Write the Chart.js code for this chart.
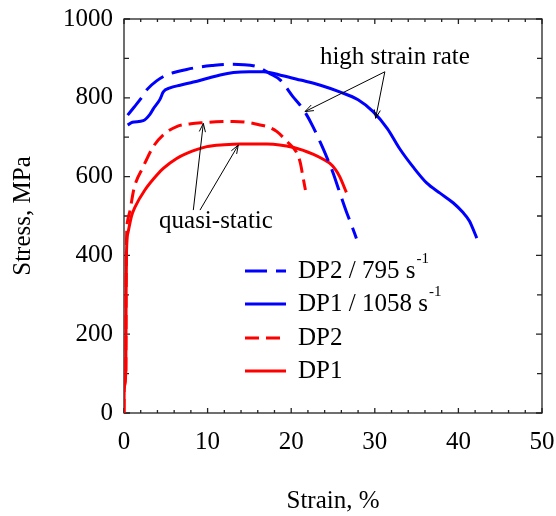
<!DOCTYPE html>
<html><head><meta charset="utf-8">
<script src="https://cdn.jsdelivr.net/npm/chart.js@4.4.0/dist/chart.umd.min.js"></script>
<style>html,body{margin:0;padding:0;background:#fff;}#wrap{width:556px;height:516px;}</style>
</head><body><div id="wrap"><canvas id="c" width="556" height="516"></canvas></div>
<script>
const FONT = '"Liberation Serif", "Times New Roman", serif';

// strain (%) / stress (MPa) pairs
const dp2HighStrain = [[0.44,756],[1.2,776],[2.1,800],[2.8,822],[3.9,843],[5.0,857],[6.3,866],[7.5,872],[9.0,878],[10.5,882],[12.3,885],[14.3,884],[15.9,879],[16.6,872],[17.4,862],[18.7,845],[20.2,803],[21.0,783],[21.7,762],[22.6,727],[23.5,686],[24.4,642],[25.0,610],[25.8,560],[26.6,511],[27.2,478],[27.8,443]];
const dp1HighStrain = [[0.44,731],[1.0,738],[2.3,742],[3.1,758],[3.5,772],[4.3,796],[4.7,815],[5.5,825],[6.7,832],[8.3,840],[9.9,849],[11.5,858],[13.1,864],[15.0,866],[16.7,866],[19.0,856],[21.1,845],[23.5,832],[25.8,815],[28.0,795],[29.8,765],[31.5,722],[33.0,670],[34.6,624],[36.2,584],[37.8,558],[39.4,533],[40.5,510],[41.3,488],[42.2,444]];
const dp2Quasi = [[0,0],[0.02,60],[0.22,110],[0.25,300],[0.3,440],[0.45,490],[0.7,512],[1.2,570],[2.3,625],[3.5,676],[4.7,706],[6.3,727],[8.0,734],[9.5,737],[11.0,739],[13.1,740],[15.0,737],[16.3,731],[17.5,724],[18.3,714],[19.5,689],[20.7,659],[21.1,634],[21.4,600],[21.7,566]];
const dp1Quasi = [[0,0],[0.02,60],[0.22,110],[0.25,300],[0.3,410],[0.5,460],[0.9,500],[1.3,522],[2.5,566],[4.1,608],[4.7,621],[6.3,646],[7.5,659],[9.9,676],[12.0,681],[13.9,683],[17.1,683],[20.3,674],[22.6,657],[24.0,642],[24.6,634],[25.3,618],[25.8,600],[26.6,560]];

const seriesNames = ['DP2 / 795 s', 'DP1 / 1058 s', 'DP2', 'DP1'];
const seriesSup = ['-1', '-1', '', ''];
const xTicks = [0, 10, 20, 30, 40, 50];
const yTicks = [0, 200, 400, 600, 800, 1000];

// annotations: text anchor and arrow tail/tip in data coords
const annHigh = {text:'high strain rate', at:[32.4,903], arrows:[[[31.2,866],[21.65,765]],[[31.2,866],[30.1,748]]]};
const annQuasi = {text:'quasi-static', at:[11.0,487], arrows:[[[8.29,515],[9.49,735]],[[9.09,515],[13.67,680]]]};

const toXY = arr => arr.map(p => ({x:p[0], y:p[1]}));
const styles = [
  {color:'#0000ff', dash:[22,9]},
  {color:'#0000ff', dash:[]},
  {color:'#ff0000', dash:[14,7]},
  {color:'#ff0000', dash:[]}
];
const allSeries = [dp2HighStrain, dp1HighStrain, dp2Quasi, dp1Quasi];
const datasets = allSeries.map((s,i) => ({
  label: seriesNames[i] + (seriesSup[i] ? '\u207B\u00B9' : ''),
  data: toXY(s),
  borderColor: styles[i].color,
  borderDash: styles[i].dash,
  borderWidth: 3,
  pointRadius: 0,
  fill: false,
  showLine: true,
  cubicInterpolationMode: 'monotone'
}));

const framePlugin = {
  id:'frame',
  beforeDatasetsDraw(chart){
    const {ctx, chartArea:a, scales:{x,y}} = chart;
    ctx.save();
    ctx.strokeStyle = '#222'; ctx.lineWidth = 1.3;
    ctx.strokeRect(a.left, a.top, a.right-a.left, a.bottom-a.top);
    ctx.beginPath();
    for (let v=0; v<=50; v+=2){
      const px = x.getPixelForValue(v);
      const L = v%10===0 ? 5 : 3;
      ctx.moveTo(px,a.bottom); ctx.lineTo(px,a.bottom-L);
      ctx.moveTo(px,a.top); ctx.lineTo(px,a.top+L);
    }
    for (let v=0; v<=1000; v+=100){
      const py = y.getPixelForValue(v);
      const L = v%200===0 ? 6 : 5;
      ctx.moveTo(a.left,py); ctx.lineTo(a.left+L,py);
      ctx.moveTo(a.right,py); ctx.lineTo(a.right-L,py);
    }
    ctx.stroke();
    ctx.restore();
  }
};

function arrow(ctx, x1, y1, x2, y2){
  const ang = Math.atan2(y2-y1, x2-x1), h = 9, w = 0.35;
  ctx.beginPath();
  ctx.moveTo(x1,y1); ctx.lineTo(x2,y2);
  ctx.moveTo(x2 - h*Math.cos(ang-w), y2 - h*Math.sin(ang-w));
  ctx.lineTo(x2,y2);
  ctx.lineTo(x2 - h*Math.cos(ang+w), y2 - h*Math.sin(ang+w));
  ctx.stroke();
}

const overlayPlugin = {
  id:'overlay',
  afterDraw(chart){
    const {ctx, scales:{x,y}} = chart;
    ctx.save();
    ctx.fillStyle = '#000'; ctx.strokeStyle = '#000'; ctx.lineWidth = 1;
    ctx.font = '25px ' + FONT;
    ctx.textAlign = 'center'; ctx.textBaseline = 'middle';
    [annHigh, annQuasi].forEach(an => {
      ctx.fillText(an.text, x.getPixelForValue(an.at[0]), y.getPixelForValue(an.at[1]));
      an.arrows.forEach(ar => arrow(ctx, x.getPixelForValue(ar[0][0]), y.getPixelForValue(ar[0][1]), x.getPixelForValue(ar[1][0]), y.getPixelForValue(ar[1][1])));
    });
    // legend
    const rows = [271, 304, 338, 371];
    const lx0 = 245, lx1 = 286, tx = 298;
    chart.data.datasets.forEach((ds,i) => {
      const ry = rows[i];
      ctx.save();
      ctx.strokeStyle = ds.borderColor; ctx.lineWidth = 3;
      ctx.setLineDash(ds.borderDash);
      ctx.beginPath(); ctx.moveTo(lx0, ry); ctx.lineTo(lx1, ry); ctx.stroke();
      ctx.restore();
      ctx.textAlign = 'left'; ctx.textBaseline = 'middle';
      ctx.font = '25px ' + FONT;
      ctx.fillText(seriesNames[i], tx, ry);
      if (seriesSup[i]){
        const w = ctx.measureText(seriesNames[i]).width;
        ctx.font = '15px ' + FONT;
        ctx.fillText(seriesSup[i], tx + w + 1, ry - 12);
      }
    });
    ctx.restore();
  }
};

new Chart(document.getElementById('c'), {
  type: 'scatter',
  data: { datasets },
  options: {
    responsive: false,
    animation: false,
    layout: { padding: { top: 19, right: 14, left: 0, bottom: 0 } },
    plugins: { legend: { display: false }, tooltip: { enabled: false } },
    scales: {
      x: {
        type: 'linear', min: 0, max: 50,
        afterBuildTicks: s => { s.ticks = xTicks.map(v => ({value:v})); },
        grid: { display: false, drawTicks: false },
        border: { display: false },
        ticks: { color:'#000', font: { family: FONT, size: 25 }, padding: 14, maxRotation: 0, callback: v => String(v) },
        title: { display: true, text: 'Strain, %', color:'#000', font: { family: FONT, size: 25 }, padding: { top: 0, bottom: 0 } },
        afterFit: s => { s.height = 103; s.paddingLeft = 0; s.paddingRight = 0; }
      },
      y: {
        type: 'linear', min: 0, max: 1000,
        afterBuildTicks: s => { s.ticks = yTicks.map(v => ({value:v})); },
        grid: { display: false, drawTicks: false },
        border: { display: false },
        ticks: { color:'#000', font: { family: FONT, size: 25 }, padding: 11, callback: v => String(v) },
        title: { display: true, text: 'Stress, MPa', color:'#000', font: { family: FONT, size: 25 }, padding: { top: 8, bottom: 0 } },
        afterFit: s => { s.width = 124; s.paddingTop = 0; s.paddingBottom = 0; }
      }
    }
  },
  plugins: [framePlugin, overlayPlugin]
});
</script></body></html>
